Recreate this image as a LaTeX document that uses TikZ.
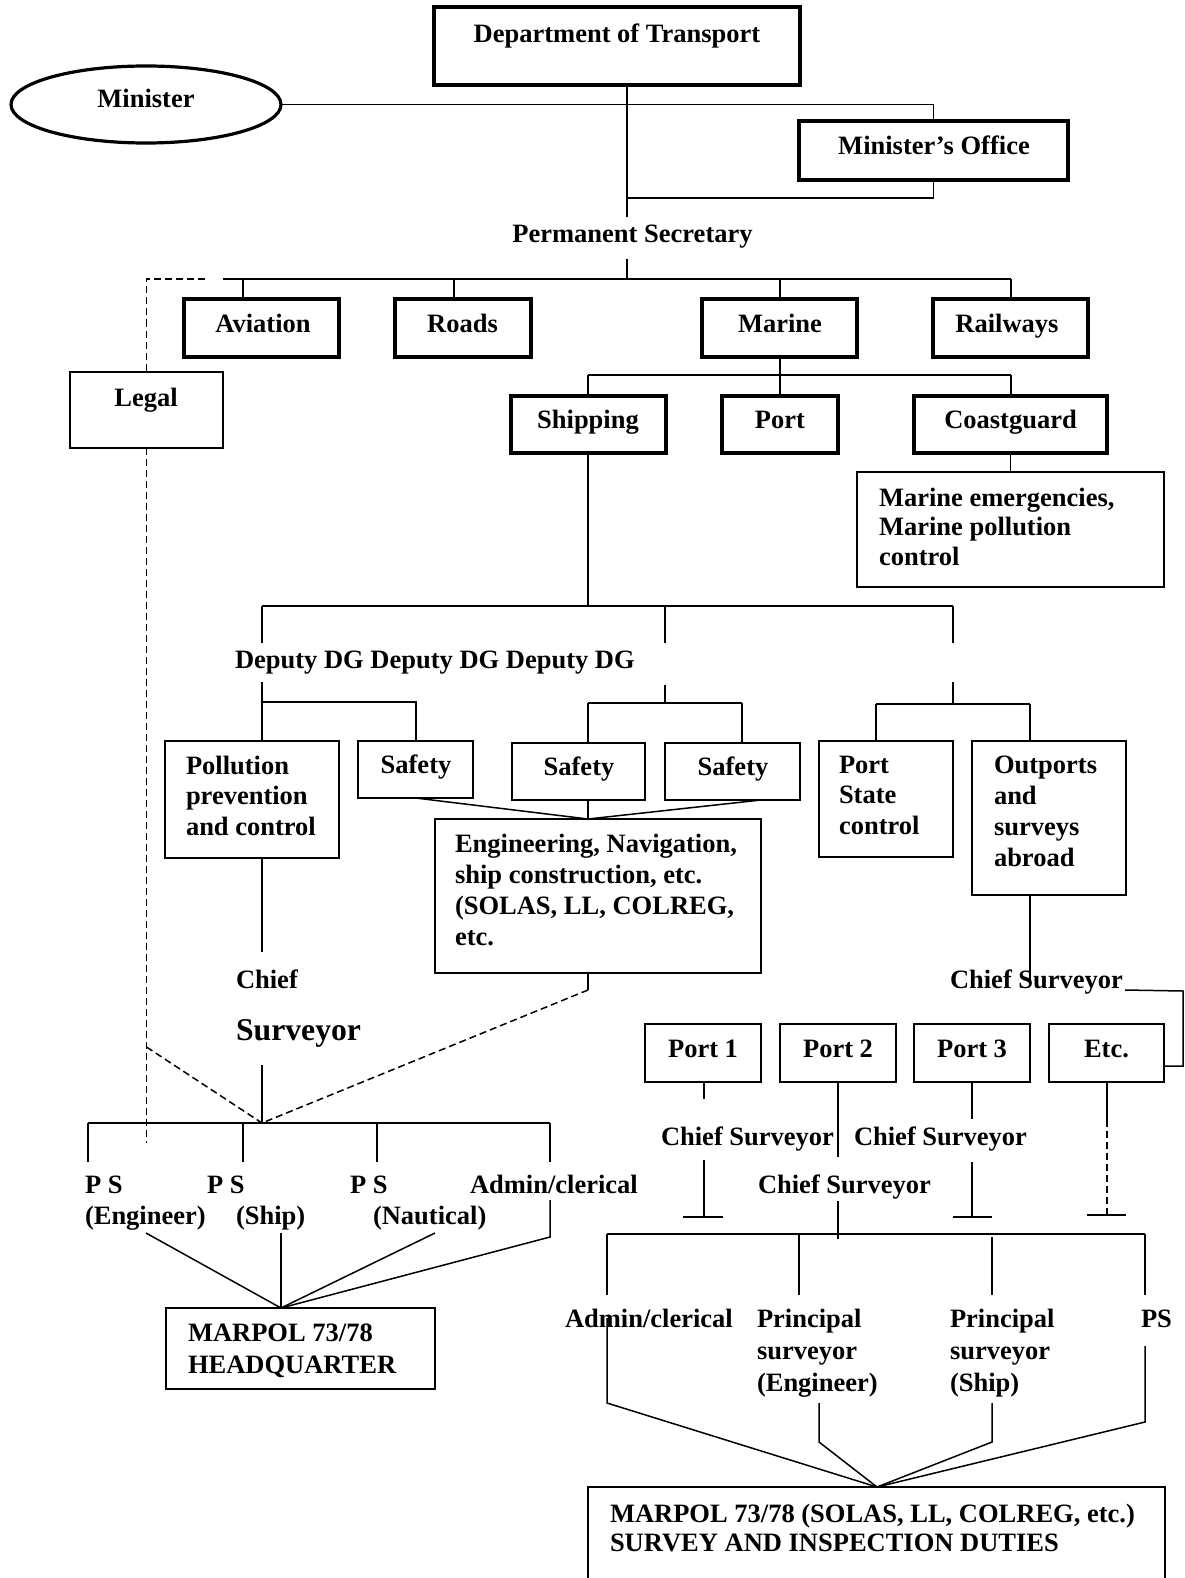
\documentclass[tikz,border=0pt]{standalone}
\usepackage{fontspec}
\setmainfont{Liberation Serif}
\usetikzlibrary{shapes.geometric}
\newcommand{\rbox}[6]{\node[#1, minimum width={#4-#3}, minimum height={#6-#5}] (#2) at ({(#3+#4)/2},{(#5+#6)/2}) {};}
\begin{document}
\begin{tikzpicture}[x=1pt,y=-1pt,
  thick box/.style={draw, line width=3.2pt, inner sep=0pt, outer sep=0pt},
  thin box/.style={draw, line width=1.5pt, inner sep=0pt, outer sep=0pt},
  lbl/.style={inner sep=0pt, outer sep=0pt, font=\fontsize{26.5}{31}\selectfont\bfseries},
  ml/.style={lbl, align=left, anchor=north west},
  conn/.style={line width=1.5pt},
  dconn/.style={line width=1.5pt, dash pattern=on 7pt off 4pt},
]
\clip (0,0) rectangle (1184,1578);
\fill[white] (0,0) rectangle (1184,1578);

% ---------- top ----------
\rbox{thick box}{dot}{434}{800}{7}{85}
\node[lbl, anchor=base] (dott) at (617,43) {Department of Transport};
\node[thick box, ellipse, minimum width=270, minimum height=77] (min) at (146,104.5) {};
\node[lbl, anchor=base] (mint) at (146,108) {Minister};
\rbox{thick box}{mo}{799}{1068}{121}{180}
\node[lbl, anchor=base] (mot) at (934,155) {Minister’s Office};
\node[lbl, anchor=base] (pst) at (632.5,243) {Permanent Secretary};

\rbox{thick box}{av}{184}{339}{299}{357}
\rbox{thick box}{rd}{395}{531}{299}{357}
\rbox{thick box}{mar}{702}{857}{299}{357}
\rbox{thick box}{rw}{933}{1088}{299}{357}
\node[lbl, anchor=base] (avt) at (263,332) {Aviation};
\node[lbl, anchor=base] (rdt) at (462.5,332) {Roads};
\node[lbl, anchor=base] (mart) at (780,332) {Marine};
\node[lbl, anchor=base] (rwt) at (1007,332) {Railways};

\rbox{thin box}{leg}{70}{223}{372}{448}
\node[lbl, anchor=base] (legt) at (146,406) {Legal};

\rbox{thick box}{shp}{511}{666}{396}{453}
\rbox{thick box}{prt}{722}{838}{396}{453}
\rbox{thick box}{cg}{914}{1107}{396}{453}
\node[lbl, anchor=base] (shpt) at (588,428) {Shipping};
\node[lbl, anchor=base] (prtt) at (780,428) {Port};
\node[lbl, anchor=base] (cgt) at (1010.5,428) {Coastguard};

\rbox{thin box}{me}{857}{1164}{472}{587}
\node[ml, font=\fontsize{26.5}{29.5}\selectfont\bfseries] (met) at (879,488) {Marine emergencies,\\Marine pollution\\control};

\node[lbl, anchor=base west] (ddg) at (235,668) {Deputy DG Deputy DG Deputy DG};

% ---------- DDG level ----------
\rbox{thin box}{pol}{165}{339}{741}{858}
\node[ml, font=\fontsize{26.5}{30.5}\selectfont\bfseries] (polt) at (186,756) {Pollution\\prevention\\and control};
\rbox{thin box}{s1}{358}{473}{741}{798}
\node[lbl, anchor=base] (s1t) at (416,773) {Safety};
\rbox{thin box}{s2}{512}{645}{743}{800}
\node[lbl, anchor=base] (s2t) at (579,775) {Safety};
\rbox{thin box}{s3}{665}{800}{743}{800}
\node[lbl, anchor=base] (s3t) at (733,775) {Safety};
\rbox{thin box}{eng}{435}{761}{819}{973}
\node[ml] (engt) at (455,834) {Engineering, Navigation,\\ship construction, etc.\\(SOLAS, LL, COLREG,\\etc.};
\rbox{thin box}{psc}{819}{953}{741}{857}
\node[ml, font=\fontsize{26.5}{30.5}\selectfont\bfseries] (psct) at (839,756) {Port\\State\\control};
\rbox{thin box}{out}{972}{1126}{741}{895}
\node[ml] (outt) at (994,756) {Outports\\and\\surveys\\abroad};

\node[lbl, anchor=base west] (chf) at (236,988) {Chief};
\node[lbl, anchor=base west, font=\fontsize{31.7}{36}\selectfont\bfseries] (srv) at (236,1040) {Surveyor};

% ---------- left bottom ----------
\node[lbl, anchor=base west] (ps1) at (85,1193) {P S};
\node[lbl, anchor=base west] (ps1b) at (85,1224) {(Engineer)};
\node[lbl, anchor=base west] (ps2) at (207,1193) {P S};
\node[lbl, anchor=base west] (ps2b) at (236,1224) {(Ship)};
\node[lbl, anchor=base west] (ps3) at (350,1193) {P S};
\node[lbl, anchor=base west] (ps3b) at (373,1224) {(Nautical)};
\node[lbl, anchor=base west] (adm1) at (470,1193) {Admin/clerical};
\rbox{thin box}{hq}{166}{435}{1308}{1389}
\node[ml, font=\fontsize{26.5}{31.5}\selectfont\bfseries] (hqt) at (188,1324) {MARPOL 73/78\\HEADQUARTER};

% ---------- right bottom ----------
\node[lbl, anchor=base west] (cso) at (950,988) {Chief Surveyor};
\rbox{thin box}{p1}{645}{761}{1024}{1082}
\rbox{thin box}{p2}{780}{896}{1024}{1082}
\rbox{thin box}{p3}{914}{1030}{1024}{1082}
\rbox{thin box}{etc}{1049}{1164}{1024}{1082}
\node[lbl, anchor=base] (p1t) at (703,1057) {Port 1};
\node[lbl, anchor=base] (p2t) at (838,1057) {Port 2};
\node[lbl, anchor=base] (p3t) at (972,1057) {Port 3};
\node[lbl, anchor=base] (etct) at (1106.5,1057) {Etc.};
\node[lbl, anchor=base west] (cs1) at (661,1145) {Chief Surveyor};
\node[lbl, anchor=base west] (cs3) at (854,1145) {Chief Surveyor};
\node[lbl, anchor=base west] (cs2) at (758,1193) {Chief Surveyor};

\node[lbl, anchor=base west] (adm2) at (565,1327) {Admin/clerical};
\node[ml, font=\fontsize{26.5}{32}\selectfont\bfseries] (pse) at (757,1309) {Principal\\surveyor\\(Engineer)};
\node[ml, font=\fontsize{26.5}{32}\selectfont\bfseries] (pss) at (950,1309) {Principal\\surveyor\\(Ship)};
\node[lbl, anchor=base west] (psr) at (1141,1327) {PS};
\rbox{thin box}{bot}{588}{1165}{1487}{1600}
\node[ml, font=\fontsize{26.5}{29}\selectfont\bfseries] (bott) at (610,1504) {MARPOL 73/78 (SOLAS, LL, COLREG, etc.)\\SURVEY AND INSPECTION DUTIES};

% ---------- connectors ----------
\begin{scope}[conn]
\draw (min.east) -- (min.east -| mo.north) -- (mo.north);
\coordinate (dtb) at (627,217);
\draw (dot.south -| dtb) -- (dtb);
\coordinate (mob) at (627,198);
\draw (mo.south) -- (mo.south |- mob) -- (mob);
\coordinate (psb) at (627,259); \coordinate (psh) at (627,279);
\draw (psb) -- (psh);
\coordinate (hL) at (223,279); \coordinate (hR) at (1011,279);
\draw (hL) -- (hR);
\coordinate (tav) at (243,279); \coordinate (trd) at (454,279); \coordinate (tmar) at (780,279);
\draw (tav) -- (tav |- av.north);
\draw (trd) -- (trd |- rd.north);
\draw (tmar) -- (tmar |- mar.north);
\draw (hR) -- (hR |- rw.north);

\coordinate (mh) at (780,375); \coordinate (mhL) at (588,375); \coordinate (mhR) at (1011,375);
\draw (mar.south -| mh) -- (mh);
\draw (mhL) -- (mhR);
\draw (mhL) -- (mhL |- shp.north);
\draw (mh) -- (mh |- prt.north);
\draw (mhR) -- (mhR |- cg.north);
\draw (cg.south) -- (me.north);

\coordinate (sh) at (588,606);
\draw (shp.south -| sh) -- (sh);
\coordinate (dL) at (262,606); \coordinate (dM) at (665,606); \coordinate (dR) at (953,606);
\coordinate (dLb) at (262,643); \coordinate (dMb) at (665,643); \coordinate (dRb) at (953,643);
\draw (dL) -- (dR);
\draw (dL) -- (dLb); \draw (dM) -- (dMb); \draw (dR) -- (dRb);

\coordinate (e1) at (262,682); \coordinate (e1h) at (262,702); \coordinate (e1r) at (416,702);
\draw (e1) -- (e1 |- pol.north);
\draw (e1h) -- (e1r) -- (e1r |- s1.north);
\coordinate (e2) at (665,685); \coordinate (e2h) at (665,703); \coordinate (e2l) at (588,703); \coordinate (e2r) at (742,703);
\draw (e2) -- (e2h); \draw (e2l) -- (e2r);
\draw (e2l) -- (e2l |- s2.north); \draw (e2r) -- (e2r |- s3.north);
\coordinate (e3) at (953,682); \coordinate (e3h) at (953,704); \coordinate (e3l) at (876,704); \coordinate (e3r) at (1030,704);
\draw (e3) -- (e3h); \draw (e3l) -- (e3r);
\draw (e3l) -- (e3l |- psc.north); \draw (e3r) -- (e3r |- out.north);

\coordinate (cv) at (588,819);
\draw (s1.south) -- (cv);
\draw (s2.south -| cv) -- (cv);
\draw (s3.south -| eng.east) -- (cv);

\coordinate (c1) at (262,952);
\draw (c1 |- pol.south) -- (c1);
\coordinate (c2) at (262,1065); \coordinate (c3) at (262,1123);
\draw (c2) -- (c3);
\coordinate (eg) at (588,990);
\draw (eng.south -| eg) -- (eg);

\coordinate (bL) at (88,1123); \coordinate (bR) at (550,1123);
\coordinate (b2) at (243,1123); \coordinate (b3) at (377,1123);
\coordinate (bLd) at (88,1162); \coordinate (b2d) at (243,1162); \coordinate (b3d) at (377,1162); \coordinate (bRd) at (550,1162);
\draw (bL) -- (bR);
\draw (bL) -- (bLd); \draw (b2) -- (b2d); \draw (b3) -- (b3d); \draw (bR) -- (bRd);
\coordinate (hqc) at (281,1308);
\coordinate (p1s) at (146,1233); \coordinate (p2s) at (281,1233); \coordinate (p3s) at (435,1233);
\coordinate (p4a) at (550,1200); \coordinate (p4s) at (550,1237);
\draw (p1s) -- (hqc); \draw (p2s) -- (hqc); \draw (p3s) -- (hqc);
\draw (p4a) -- (p4s) -- (hqc);

\coordinate (o1) at (1030,985);
\draw (out.south -| o1) -- (o1);
\coordinate (o2) at (1125,990); \coordinate (o3) at (1183,991); \coordinate (o4) at (1183,1066);
\draw (o2) -- (o3) -- (o4) -- (o4 -| etc.east);

\coordinate (q1a) at (704,1099); \coordinate (q1b) at (704,1160); \coordinate (q1c) at (704,1217);
\coordinate (q1l) at (683,1217); \coordinate (q1r) at (723,1217);
\draw (q1a |- p1.south) -- (q1a); \draw (q1b) -- (q1c); \draw (q1l) -- (q1r);
\coordinate (q2a) at (838,1157); \coordinate (q2b) at (838,1201); \coordinate (q2c) at (838,1239);
\draw (q2a |- p2.south) -- (q2a); \draw (q2b) -- (q2c);
\coordinate (q3a) at (972,1119); \coordinate (q3b) at (972,1162); \coordinate (q3c) at (972,1217);
\coordinate (q3l) at (953,1217); \coordinate (q3r) at (992,1217);
\draw (q3a |- p3.south) -- (q3a); \draw (q3b) -- (q3c); \draw (q3l) -- (q3r);
\coordinate (q4a) at (1107,1120); \coordinate (q4c) at (1107,1215);
\coordinate (q4l) at (1087,1215); \coordinate (q4r) at (1126,1215);
\draw (q4a |- etc.south) -- (q4a); \draw (q4l) -- (q4r);

\coordinate (r0) at (607,1234); \coordinate (r1) at (799,1234); \coordinate (r2) at (992,1237); \coordinate (r3) at (1145,1234);
\coordinate (r0d) at (607,1295); \coordinate (r1d) at (799,1295); \coordinate (r2d) at (992,1295); \coordinate (r3d) at (1145,1295);
\draw (r0) -- (r3);
\draw (r0) -- (r0d); \draw (r1) -- (r1d); \draw (r2) -- (r2d); \draw (r3) -- (r3d);

\coordinate (bc) at (877,1487);
\coordinate (u0) at (607,1318); \coordinate (u0b) at (607,1403);
\coordinate (u1) at (819,1403); \coordinate (u1b) at (819,1442);
\coordinate (u2) at (992,1403); \coordinate (u2b) at (992,1442);
\coordinate (u3) at (1145,1346); \coordinate (u3b) at (1145,1422);
\draw (u0) -- (u0b) -- (bc);
\draw (u1) -- (u1b) -- (bc);
\draw (u2) -- (u2b) -- (bc);
\draw (u3) -- (u3b) -- (bc);
\end{scope}

% ---------- dashed ----------
\coordinate (lgd) at (205,279);
\coordinate (lgk) at (146.5,1047); \coordinate (lge) at (146.5,1143);
\draw[dconn] (lgd) -- (lgd -| leg.north) -- (leg.north);
\draw[dconn] (leg.south) -- (lge);
\draw[dconn] (lgk) -- (c3);
\draw[dconn] (eg) -- (c3);
\draw[dconn] (q4a) -- (q4c);
\end{tikzpicture}
\end{document}
